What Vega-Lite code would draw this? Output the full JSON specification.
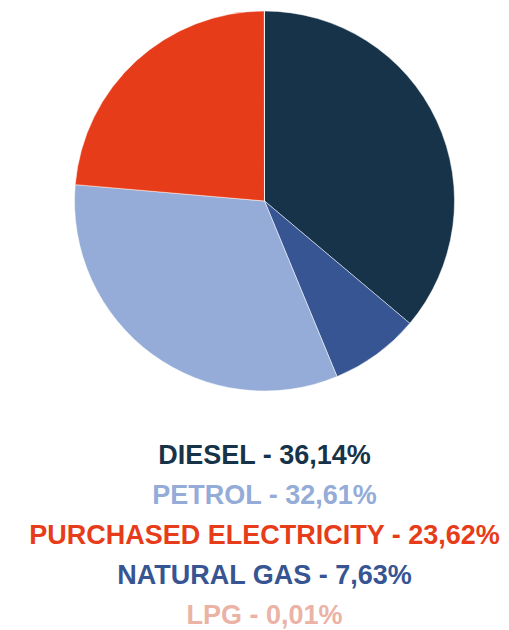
{
  "$schema": "https://vega.github.io/schema/vega-lite/v6.json",
  "padding": {"left": 20, "top": 0, "right": 0, "bottom": 0},
  "background": "#ffffff",
  "config": {"view": {"stroke": null}},
  "datasets": {
    "fuel": [
      {"name": "Diesel", "value": 36.14, "pieOrder": 1, "legendOrder": 1, "label": "DIESEL - 36,14%"},
      {"name": "Natural gas", "value": 7.63, "pieOrder": 2, "legendOrder": 4, "label": "NATURAL GAS - 7,63%"},
      {"name": "Petrol", "value": 32.61, "pieOrder": 3, "legendOrder": 2, "label": "PETROL - 32,61%"},
      {"name": "Purchased electricity", "value": 23.62, "pieOrder": 4, "legendOrder": 3, "label": "PURCHASED ELECTRICITY - 23,62%"},
      {"name": "LPG", "value": 0.01, "pieOrder": 5, "legendOrder": 5, "label": "LPG - 0,01%"}
    ]
  },
  "vconcat": [
    {
      "width": 489,
      "height": 402,
      "data": {"name": "fuel"},
      "mark": {"type": "arc", "outerRadius": 190, "stroke": "#ffffff", "strokeWidth": 0.5},
      "encoding": {
        "theta": {"field": "value", "type": "quantitative", "stack": true},
        "order": {"field": "pieOrder", "type": "quantitative", "sort": "ascending"},
        "color": {
          "field": "name",
          "type": "nominal",
          "scale": {
            "domain": ["Diesel", "Natural gas", "Petrol", "Purchased electricity", "LPG"],
            "range": ["#17334A", "#375592", "#94ACD7", "#E73C19", "#EBB2A6"]
          },
          "legend": null
        }
      }
    },
    {
      "width": 489,
      "height": 200,
      "data": {"name": "fuel"},
      "mark": {"type": "text", "font": "Liberation Sans", "fontWeight": "bold", "fontSize": 27, "baseline": "alphabetic", "align": "center"},
      "encoding": {
        "y": {"field": "label", "type": "ordinal", "sort": {"field": "legendOrder", "order": "ascending"}, "axis": null},
        "text": {"field": "label"},
        "color": {
          "field": "name",
          "type": "nominal",
          "scale": {
            "domain": ["Diesel", "Natural gas", "Petrol", "Purchased electricity", "LPG"],
            "range": ["#17334A", "#375592", "#94ACD7", "#E73C19", "#EBB2A6"]
          },
          "legend": null
        }
      }
    }
  ],
  "spacing": 40
}
